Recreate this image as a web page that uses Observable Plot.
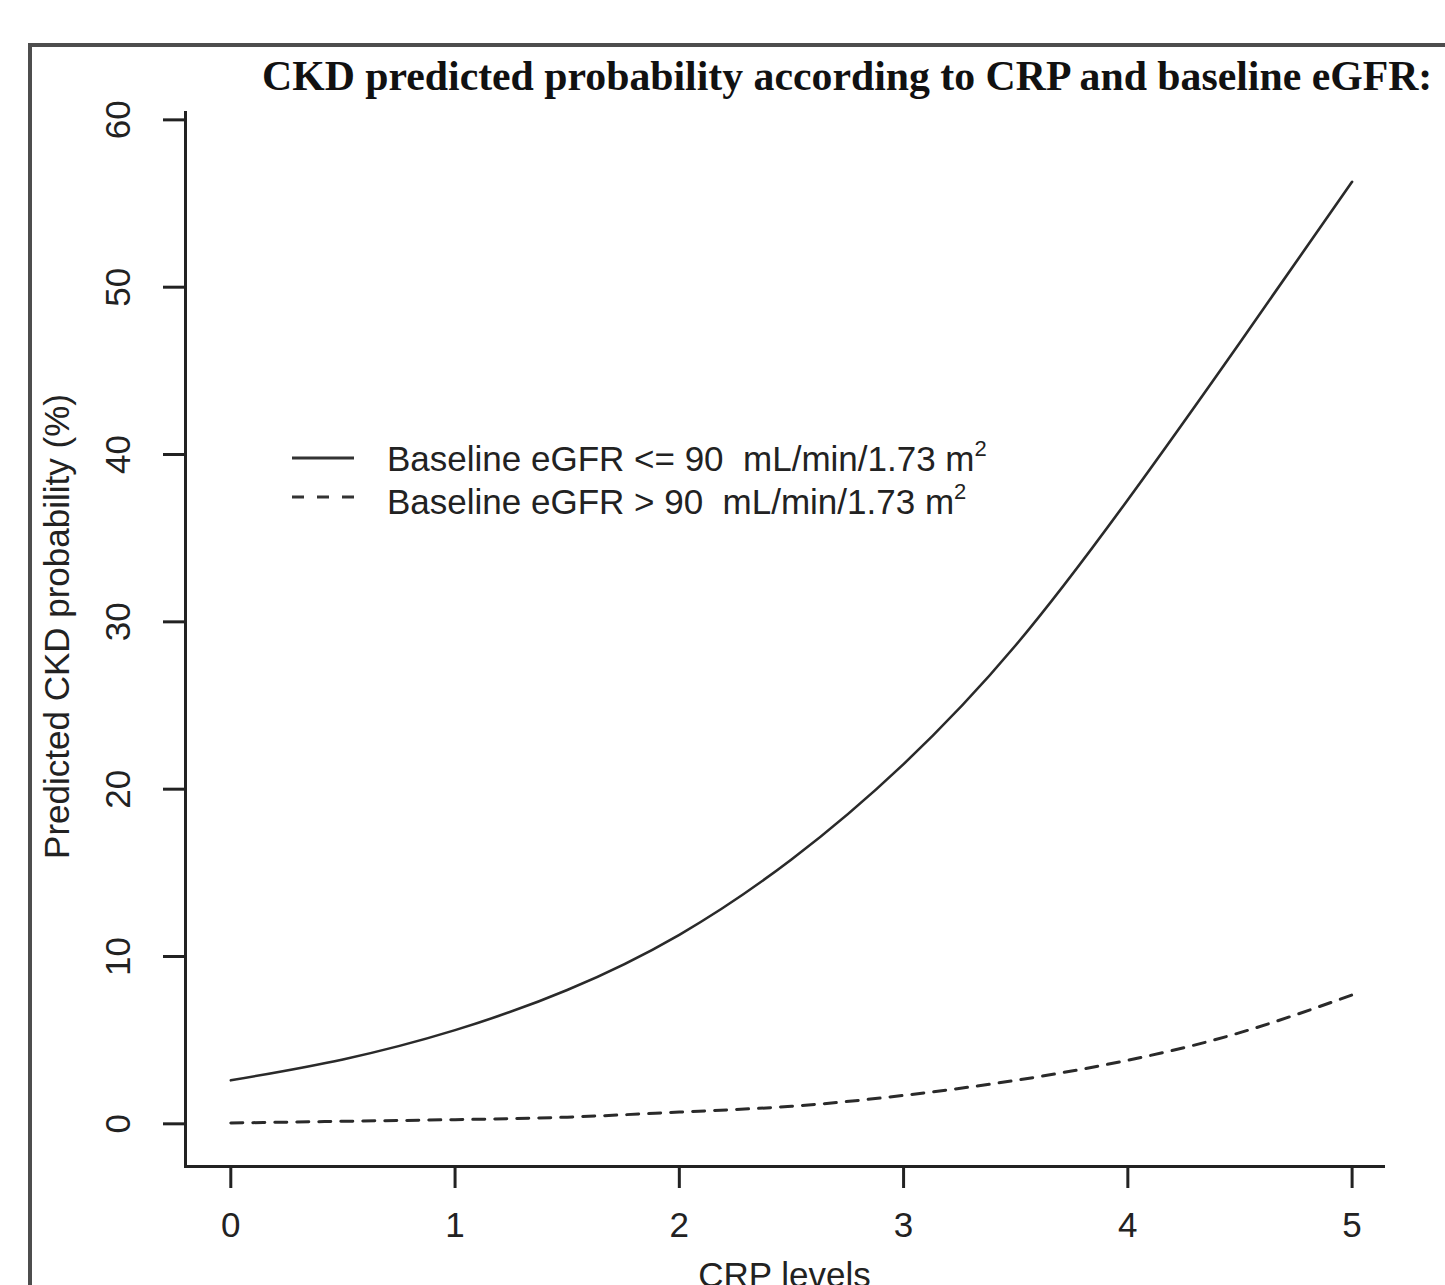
<!DOCTYPE html>
<html>
<head>
<meta charset="utf-8">
<script src="https://cdn.jsdelivr.net/npm/d3@7"></script>
<script src="https://cdn.jsdelivr.net/npm/@observablehq/plot@0.6"></script>
<style>
  html, body { margin: 0; padding: 0; background: #fff; width: 1445px; height: 1285px; overflow: hidden; }
  #wrap { position: relative; width: 1445px; height: 1285px; }
  #border { position: absolute; left: 28px; top: 43px; width: 1500px; height: 1400px; border-left: 4px solid #4d4d4d; border-top: 4px solid #4d4d4d; box-sizing: border-box; }
  #chart { position: absolute; left: 0; top: 0; }
  #title { position: absolute; left: 262px; top: 56px; font-family: "Liberation Serif", "Times New Roman", serif; font-weight: bold; color: #111; white-space: nowrap; line-height: 1; }
  .leg { position: absolute; left: 387px; font-family: "Liberation Sans", Arial, sans-serif; font-size: 35px; line-height: 36px; color: #222; white-space: pre; }
  .leg sup { font-size: 22px; position: relative; top: -15px; vertical-align: baseline; line-height: 0; }
  .legline { position: absolute; left: 290px; }
</style>
</head>
<body>
<div id="wrap">
  <div id="border"></div>
  <div id="chart"></div>
  <div id="title"></div>
  <svg class="legline" style="top:448px" width="66" height="20"><line x1="2" x2="64" y1="10" y2="10" stroke="#333" stroke-width="3"/></svg>
  <svg class="legline" style="top:487px" width="66" height="20"><line x1="2" x2="64" y1="10" y2="10" stroke="#333" stroke-width="3" stroke-dasharray="12,13"/></svg>
  <div class="leg" id="leg1" style="top:441px"></div>
  <div class="leg" id="leg2" style="top:484px"></div>
</div>
<script>
// ---- data ----
const title = "CKD predicted probability according to CRP and baseline eGFR:";
const xLabel = "CRP levels";
const yLabel = "Predicted CKD probability (%)";
const legendLabels = ["Baseline eGFR <= 90  mL/min/1.73 m", "Baseline eGFR > 90  mL/min/1.73 m"];
const legendSup = "2";
const xTicks = [0, 1, 2, 3, 4, 5];
const yTicks = [0, 10, 20, 30, 40, 50, 60];
const crp = [0, 0.5, 1, 1.5, 2, 2.5, 3, 3.5, 4, 4.5, 5];
const probLowEGFR = [2.6, 3.85, 5.6, 8.0, 11.3, 15.8, 21.5, 28.6, 37.3, 46.7, 56.3];   // eGFR <= 90
const probHighEGFR = [0.05, 0.15, 0.25, 0.4, 0.7, 1.05, 1.7, 2.6, 3.8, 5.45, 7.7];    // eGFR > 90

const lowRows = crp.map((x, i) => ({x, y: probLowEGFR[i]}));
const highRows = crp.map((x, i) => ({x, y: probHighEGFR[i]}));

// title, fitted to its width in the reference
const titleEl = document.getElementById("title");
titleEl.textContent = title;
{
  const c = document.createElement("canvas").getContext("2d");
  c.font = "bold 100px 'Liberation Serif'";
  const w = c.measureText(title).width;
  titleEl.style.fontSize = (100 * 1173 / w).toFixed(2) + "px";
}
const esc = s => s.replace(/&/g, "&amp;").replace(/</g, "&lt;").replace(/>/g, "&gt;");
document.getElementById("leg1").innerHTML = esc(legendLabels[0]) + "<sup>" + legendSup + "</sup>";
document.getElementById("leg2").innerHTML = esc(legendLabels[1]) + "<sup>" + legendSup + "</sup>";

const chart = Plot.plot({
  width: 1445,
  height: 1285,
  marginLeft: 185,
  marginRight: 62,
  marginTop: 112,
  marginBottom: 119,
  x: {domain: [-0.202, 5.14]},
  y: {domain: [-2.55, 60.44]},
  style: {fontFamily: "'Liberation Sans', Arial, sans-serif", fontSize: "35px", color: "#222", background: "transparent"},
  marks: [
    Plot.frame({anchor: "left", stroke: "#222", strokeWidth: 3}),
    Plot.frame({anchor: "bottom", stroke: "#222", strokeWidth: 3}),
    Plot.axisX(xTicks, {tickSize: 22, tickPadding: 24, strokeWidth: 3, label: null, fontSize: 35, tickFormat: d => String(d)}),
    Plot.axisY(yTicks, {tickSize: 22, strokeWidth: 3, label: null, tickFormat: () => ""}),
    Plot.text(yTicks, {y: d => d, frameAnchor: "left", textAnchor: "middle", dx: -67, rotate: -90, text: d => String(d), fontSize: 35}),
    Plot.line(lowRows, {x: "x", y: "y", curve: "natural", stroke: "#2a2a2a", strokeWidth: 2.6}),
    Plot.line(highRows, {x: "x", y: "y", curve: "natural", stroke: "#2a2a2a", strokeWidth: 3, strokeDasharray: "12,10"}),
    Plot.text([yLabel], {frameAnchor: "left", textAnchor: "middle", dx: -128, dy: -13, rotate: -90, text: d => d, fontSize: 35}),
    Plot.text([xLabel], {frameAnchor: "bottom", dy: 96, lineAnchor: "top", text: d => d, fontSize: 35})
  ]
});
document.getElementById("chart").append(chart);
</script>
</body>
</html>
